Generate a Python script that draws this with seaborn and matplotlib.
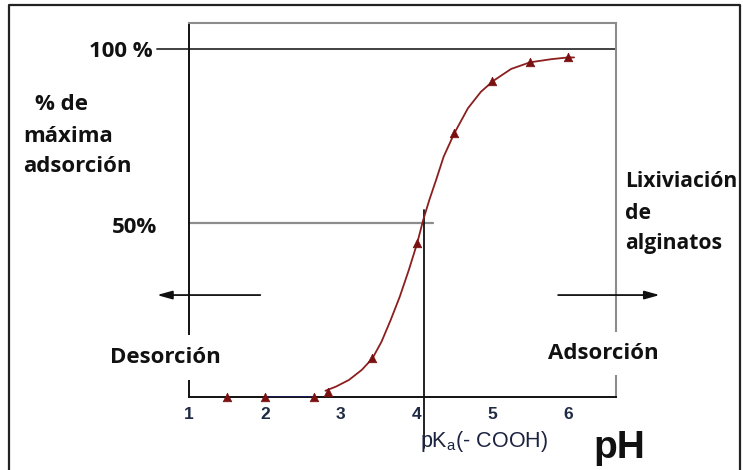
import matplotlib
matplotlib.use("Agg")
import matplotlib.pyplot as plt
from matplotlib.lines import Line2D
import seaborn as sns
import pandas as pd

# ---------------- data ----------------
marker_ph = [1.5, 2.0, 2.65, 2.83, 3.42, 4.01, 4.50, 5.0, 5.5, 6.0]
marker_pct = [0, 0, 0, 1.4, 11.1, 44.2, 75.8, 90.8, 96.2, 97.6]

curve_ph = [2.80, 2.94, 3.11, 3.28, 3.42, 3.54, 3.66, 3.78, 3.90, 4.01,
            4.09, 4.17, 4.26, 4.36, 4.50, 4.68, 4.85, 5.01, 5.25, 5.50,
            5.78, 6.00, 6.08]
curve_pct = [1.8, 3.0, 4.9, 7.8, 11.1, 15.9, 22.1, 28.8, 36.5, 44.2,
             50.9, 56.6, 62.4, 69.1, 75.8, 83.0, 87.7, 90.8, 94.3, 96.2,
             97.1, 97.6, 97.6]

base_ph = [2.0, 2.65]
base_pct = [0, 0]

xticks = [1, 2, 3, 4, 5, 6]
xtick_labels = ["1", "2", "3", "4", "5", "6"]
pka = 4.1
half_level = 50
full_level = 100

W, H = 743, 470

def fpx(x, y):
    return x / W, 1 - y / H

sns.set_style("white")
plt.rcParams["font.family"] = ["Open Sans", "DejaVu Sans"]

fig = plt.figure(figsize=(W / 100, H / 100), dpi=100)
ax = fig.add_axes([189 / W, 1 - 397 / H, 427 / W, 374 / H])

curve_df = pd.DataFrame({"pH": curve_ph, "pct": curve_pct})
mark_df = pd.DataFrame({"pH": marker_ph, "pct": marker_pct})
base_df = pd.DataFrame({"pH": base_ph, "pct": base_pct})

red = "#8b1e1e"
sns.lineplot(data=base_df, x="pH", y="pct", ax=ax, color="#1c1c70",
             lw=1.8, estimator=None, sort=False, zorder=3)
sns.lineplot(data=curve_df, x="pH", y="pct", ax=ax, color=red,
             lw=1.3, estimator=None, sort=False, zorder=4)
sns.scatterplot(data=mark_df, x="pH", y="pct", ax=ax, marker="^",
                color="#7a1010", s=38, edgecolor="#7a1010", linewidth=0.5,
                zorder=5, clip_on=False)

xmin, xmax = 1.0, 1 + (616 - 189) / 75.8
ymin, ymax = 0, 107.5
ax.set_xlim(xmin, xmax)
ax.set_ylim(ymin, ymax)

# reference lines
ax.plot([xmin - 32 / 75.8, xmax], [full_level, full_level], color="#333333",
        lw=1.3, clip_on=False, zorder=2)
ax.plot([xmin, pka + 0.12], [half_level, half_level], color="#8c8c8c",
        lw=1.6, clip_on=False, zorder=2)
ax.plot([pka, pka], [53.7, -14.7], color="#111111", lw=1.3,
        clip_on=False, zorder=2)

# arrows
ax.annotate("", xy=(xmin - 32 / 75.8, 29.3), xytext=(1.94, 29.3),
            annotation_clip=False,
            arrowprops=dict(arrowstyle="-|>,head_length=0.9,head_width=0.25",
                            color="#111111", lw=1.3, shrinkA=0, shrinkB=0))
ax.annotate("", xy=(7.21, 29.3), xytext=(5.87, 29.3),
            annotation_clip=False,
            arrowprops=dict(arrowstyle="-|>,head_length=0.9,head_width=0.25",
                            color="#111111", lw=1.3, shrinkA=0, shrinkB=0))

# spines and ticks
for s in ["left", "bottom"]:
    ax.spines[s].set_color("#111111")
    ax.spines[s].set_linewidth(1.4)
for s in ["top", "right"]:
    ax.spines[s].set_color("#8c8c8c")
    ax.spines[s].set_linewidth(1.5)
ax.set_xticks(xticks)
ax.set_xticklabels(xtick_labels)
ax.set_yticks([0, half_level, ymax])
ax.set_yticklabels([])
ax.tick_params(axis="x", direction="inout", length=8, width=1.3,
               color="#111111", pad=3, labelsize=12.5, labelcolor="#1f2a44")
ax.tick_params(axis="y", direction="inout", length=8, width=1.3,
               color="#111111")
for lbl in ax.get_xticklabels():
    lbl.set_fontweight("bold")
    lbl.set_family(["Liberation Sans", "DejaVu Sans"])
ax.set_xlabel("")
ax.set_ylabel("")

tc = "#111111"
bold = dict(fontweight="bold", color=tc, fontsize=16,
            family=["Open Sans", "DejaVu Sans"])
bold_r = dict(bold, fontsize=15.2)

fig.text(*fpx(153, 57), "100 %", ha="right", va="baseline", **bold)
fig.text(*fpx(157, 233), "50%", ha="right", va="baseline", **bold)
fig.text(*fpx(35, 110), "% de", ha="left", va="baseline", **bold)
fig.text(*fpx(23, 142), "máxima", ha="left", va="baseline", **bold)
fig.text(*fpx(23, 172), "adsorción", ha="left", va="baseline", **bold)
fig.text(*fpx(625, 187), "Lixiviación", ha="left", va="baseline", **bold_r)
fig.text(*fpx(625, 219), "de", ha="left", va="baseline", **bold_r)
fig.text(*fpx(625, 249), "alginatos", ha="left", va="baseline", **bold_r)
fig.text(*fpx(110, 363), "Desorción", ha="left", va="baseline",
         bbox=dict(facecolor="white", edgecolor="none", pad=9), **bold)
fig.text(*fpx(548, 359), "Adsorción", ha="left", va="baseline",
         bbox=dict(facecolor="white", edgecolor="none", pad=8), **bold)
fig.text(*fpx(420, 447), "pK$_\\mathregular{a}$(- COOH)", ha="left",
         va="baseline", fontsize=15.5, color="#1c2340",
         family=["Liberation Sans", "DejaVu Sans"])
fig.text(*fpx(593, 458), "pH", ha="left", va="baseline", fontsize=28,
         fontweight="bold", color=tc, family=["Liberation Sans", "DejaVu Sans"])

# outer frame
fig.add_artist(Line2D([9 / W, 9 / W, 740 / W, 740 / W],
                      [0, 1 - 5 / H, 1 - 5 / H, 0],
                      transform=fig.transFigure, color="#222222", lw=1.6))

fig.savefig("out.png", dpi=100)
